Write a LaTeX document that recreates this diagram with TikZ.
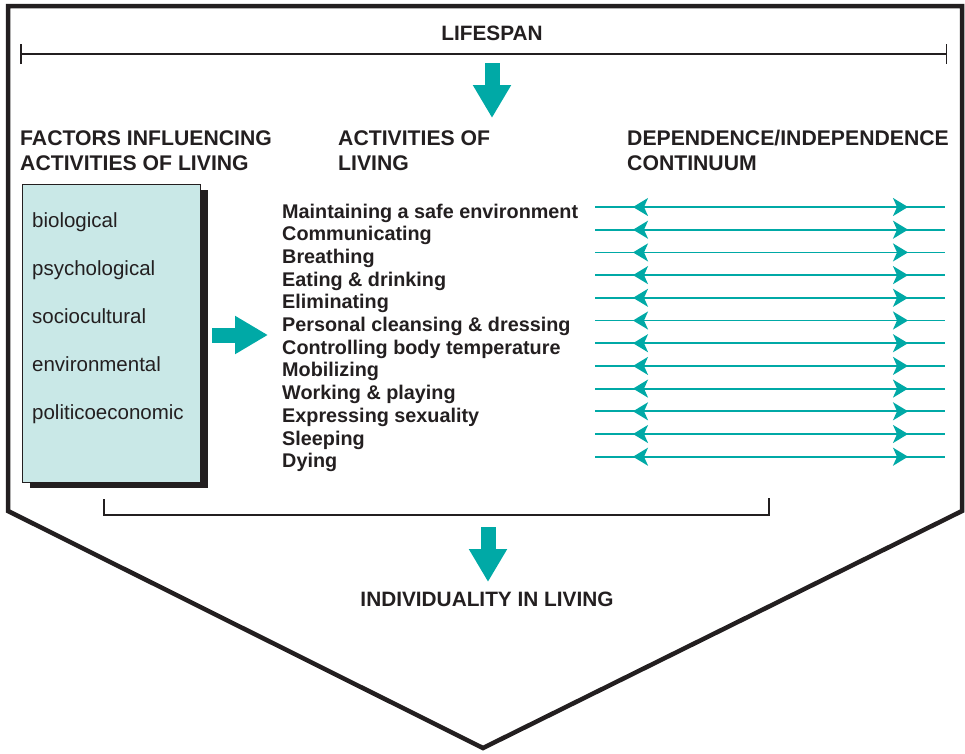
\documentclass[tikz,border=0pt]{standalone}
\usepackage{fontspec}
\setmainfont{Liberation Sans}
\usetikzlibrary{arrows.meta,positioning,decorations.markings,shadows}

\definecolor{lapteal}{HTML}{00A9A6}
\definecolor{boxfill}{HTML}{C9E8E7}
\definecolor{inkdark}{HTML}{231F20}

\begin{document}
\begin{tikzpicture}[
		x=1pt, y=-1pt,
		outline/.style={draw=inkdark, line width=4.5pt, line join=miter},
		thinline/.style={draw=inkdark, line width=1.5pt},
		heading/.style={font=\fontsize{21.2}{25}\selectfont\bfseries, text=inkdark, align=left, inner sep=0pt, anchor=north west},
		title/.style={font=\fontsize{20.8}{25}\selectfont\bfseries, text=inkdark, inner sep=0pt, anchor=base},
		activity/.style={font=\fontsize{19.8}{22}\selectfont\bfseries, text=inkdark, inner sep=0pt, anchor=base west},
		factor/.style={font=\fontsize{20.5}{24}\selectfont, text=inkdark, inner sep=0pt, anchor=base west},
		factorbox/.style={draw=inkdark, line width=1pt, fill=boxfill, minimum width=178pt, minimum height=298pt, inner sep=0pt,
			drop shadow={shadow xshift=8pt, shadow yshift=-6pt, fill=inkdark, opacity=1}},
		fatarrow/.style={draw=lapteal, line width=15pt, -{Triangle[length=33pt, width=36pt]}},
		conttip/.tip={Stealth[length=15pt, width=18pt, inset=4pt]},
		continuum/.style={draw=lapteal, line width=1.8pt, postaction=decorate,
			decoration={markings,
				mark=at position 38pt with {\arrowreversed[fill=lapteal]{conttip}},
				mark=at position -37pt with {\arrow[fill=lapteal]{conttip}}}},
	]
		\useasboundingbox (0,0) rectangle (965,753);

		% frame
		\draw[outline] (8,6) -- (962,6) -- (962,511) -- (483,748) -- (8,511) -- cycle;

		% lifespan
		\node (lifespan) [title] at (492,40) {LIFESPAN};
		\coordinate (span l) at (20,54);
		\coordinate (span r) at (947,54);
		\draw[thinline, {Bar[width=20pt]}-{Bar[width=20pt]}] (span l) -- (span r);

		% column headings
		\node (fac head) [heading] at (20,130) {FACTORS INFLUENCING\\ACTIVITIES OF LIVING};
		\node (act head) [heading] at (338,130) {ACTIVITIES OF\\LIVING};
		\node (dep head) [heading] at (627,130) {DEPENDENCE/INDEPENDENCE\\CONTINUUM};

		% factors
		\node (fbox) [factorbox] at (111,333) {};
		\foreach \f [count=\i] in {biological, psychological, sociocultural, environmental, politicoeconomic}
			\node (fac\i) [factor] at (32,{179+48*\i}) {\f};

		% activities and continuum
		\foreach \a [count=\i] in {Maintaining a safe environment, Communicating, Breathing, Eating \& drinking,
				Eliminating, Personal cleansing \& dressing, Controlling body temperature, Mobilizing,
				Working \& playing, Expressing sexuality, Sleeping, Dying} {
			\node (act\i) [activity] at (282,{195.3+22.7*\i}) {\a};
			\coordinate (cl\i) at (595,{184.3+22.7*\i});
			\coordinate (cr\i) at (945,{184.3+22.7*\i});
			\draw[continuum] (cl\i) -- (cr\i);
		}

		% bracket
		\draw[thinline] (104,499) -- (104,515) -- (769,515) -- (769,498);

		% arrows
		\coordinate (top in) at (492,63);
		\coordinate (top out) at (492,118);
		\coordinate (mid in) at (212,335);
		\coordinate (mid out) at (268,335);
		\coordinate (low in) at (488,527);
		\coordinate (low out) at (488,582);
		\draw[fatarrow] (top in) -- (top out);
		\draw[fatarrow] (mid in) -- (mid out);
		\draw[fatarrow] (low in) -- (low out);

		\node (indiv) [title] at (487,606) {INDIVIDUALITY IN LIVING};
	\end{tikzpicture}
\end{document}
